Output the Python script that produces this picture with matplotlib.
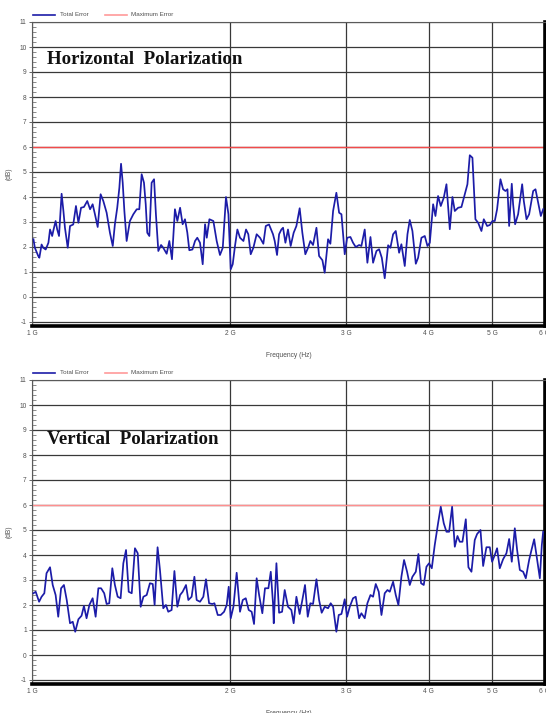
import matplotlib
matplotlib.use('Agg')
import matplotlib.pyplot as plt
from matplotlib.ticker import FixedLocator, MultipleLocator, NullLocator

# ---------------- data (frequency in GHz, error in dB) ----------------
h_freq = [1.004, 1.009, 1.021, 1.025, 1.033, 1.039, 1.048, 1.058, 1.064, 1.072,
          1.076, 1.085, 1.091, 1.098, 1.108, 1.115, 1.121, 1.132, 1.141, 1.154,
          1.165, 1.175, 1.186, 1.198, 1.212, 1.224, 1.235, 1.245, 1.257, 1.270,
          1.282, 1.297, 1.312, 1.325, 1.335, 1.346, 1.356, 1.364, 1.372, 1.380,
          1.391, 1.407, 1.424, 1.441, 1.454, 1.466, 1.478, 1.487, 1.495, 1.506,
          1.518, 1.531, 1.541, 1.554, 1.569, 1.581, 1.600, 1.615, 1.630, 1.647,
          1.661, 1.677, 1.692, 1.706, 1.720, 1.732, 1.751, 1.767, 1.781, 1.798,
          1.815, 1.830, 1.841, 1.858, 1.884, 1.906, 1.928, 1.947, 1.969, 1.986,
          2.002, 2.016, 2.032, 2.049, 2.068, 2.093, 2.112, 2.129, 2.147, 2.167,
          2.192, 2.218, 2.244, 2.263, 2.289, 2.321, 2.335, 2.354, 2.371, 2.390,
          2.404, 2.424, 2.446, 2.469, 2.495, 2.519, 2.548, 2.572, 2.599, 2.624,
          2.645, 2.670, 2.702, 2.727, 2.759, 2.781, 2.814, 2.837, 2.864, 2.897,
          2.925, 2.949, 2.983, 3.008, 3.043, 3.071, 3.100, 3.137, 3.162, 3.199,
          3.229, 3.264, 3.294, 3.333, 3.364, 3.396, 3.431, 3.472, 3.500, 3.533,
          3.566, 3.608, 3.637, 3.680, 3.715, 3.745, 3.780, 3.825, 3.856, 3.901,
          3.947, 3.984, 4.017, 4.064, 4.097, 4.135, 4.174, 4.218, 4.258, 4.308,
          4.348, 4.384, 4.435, 4.487, 4.540, 4.582, 4.620, 4.663, 4.712, 4.757,
          4.812, 4.852, 4.909, 4.955, 5.001, 5.042, 5.083, 5.143, 5.191, 5.234,
          5.271, 5.302, 5.351, 5.376, 5.414, 5.471, 5.549, 5.581, 5.634, 5.686,
          5.767, 5.814, 5.868, 5.923, 5.972]
h_err = [2.31, 1.97, 1.64, 1.57, 2.10, 1.97, 1.90, 2.17, 2.70, 2.44,
         2.64, 3.04, 2.70, 2.44, 4.13, 3.44, 2.77, 1.97, 2.84, 2.90,
         3.64, 2.97, 3.57, 3.60, 3.84, 3.51, 3.71, 3.31, 2.80, 4.11,
         3.84, 3.37, 2.57, 2.04, 2.91, 3.57, 4.37, 5.33, 4.57, 3.44,
         2.24, 3.04, 3.31, 3.51, 3.51, 4.91, 4.57, 3.71, 2.57, 2.44,
         4.57, 4.71, 3.31, 1.84, 2.08, 1.97, 1.73, 2.24, 1.51, 3.51,
         3.04, 3.57, 2.91, 3.11, 2.57, 1.87, 1.90, 2.24, 2.37, 2.17,
         1.31, 2.91, 2.37, 3.11, 3.04, 2.24, 1.68, 1.97, 4.00, 3.31,
         1.11, 1.31, 2.04, 2.70, 2.37, 2.24, 2.70, 2.51, 1.71, 1.97,
         2.51, 2.37, 2.13, 2.84, 2.90, 2.51, 2.24, 1.68, 2.51, 2.70,
         2.77, 2.17, 2.70, 2.04, 2.57, 2.84, 3.55, 2.57, 1.71, 1.97,
         2.24, 2.08, 2.77, 1.64, 1.47, 0.97, 2.31, 2.13, 3.44, 4.17,
         3.37, 3.31, 1.71, 2.37, 2.40, 2.17, 2.00, 2.08, 2.04, 2.70,
         1.37, 2.40, 1.37, 1.84, 1.91, 1.57, 0.75, 2.07, 1.97, 2.51,
         2.64, 1.77, 2.11, 1.24, 2.51, 3.08, 2.64, 1.33, 1.57, 2.37,
         2.44, 2.04, 2.17, 3.71, 3.24, 4.04, 3.64, 3.97, 4.51, 2.71,
         4.00, 3.44, 3.57, 3.60, 4.11, 4.51, 5.67, 5.57, 3.11, 2.97,
         2.64, 3.11, 2.84, 2.88, 3.04, 3.04, 3.51, 4.71, 4.31, 4.24,
         4.31, 2.84, 4.53, 3.71, 2.91, 3.31, 4.51, 3.84, 3.11, 3.31,
         4.24, 4.31, 3.77, 3.24, 3.51]

v_freq = [1.004, 1.012, 1.024, 1.033, 1.043, 1.051, 1.064, 1.074, 1.085, 1.095,
          1.106, 1.117, 1.128, 1.141, 1.152, 1.162, 1.175, 1.188, 1.198, 1.209,
          1.221, 1.235, 1.248, 1.260, 1.272, 1.286, 1.297, 1.309, 1.323, 1.335,
          1.348, 1.362, 1.375, 1.388, 1.401, 1.416, 1.432, 1.446, 1.461, 1.475,
          1.492, 1.509, 1.524, 1.534, 1.550, 1.563, 1.581, 1.596, 1.609, 1.628,
          1.644, 1.661, 1.677, 1.692, 1.712, 1.726, 1.746, 1.763, 1.777, 1.798,
          1.819, 1.836, 1.856, 1.877, 1.891, 1.913, 1.933, 1.956, 1.974, 1.988,
          2.002, 2.021, 2.044, 2.068, 2.088, 2.110, 2.132, 2.154, 2.172, 2.192,
          2.211, 2.236, 2.257, 2.284, 2.303, 2.321, 2.327, 2.349, 2.371, 2.396,
          2.418, 2.446, 2.475, 2.495, 2.519, 2.548, 2.572, 2.596, 2.621, 2.645,
          2.670, 2.702, 2.727, 2.752, 2.781, 2.814, 2.840, 2.864, 2.897, 2.921,
          2.949, 2.983, 3.008, 3.036, 3.071, 3.100, 3.137, 3.162, 3.199, 3.229,
          3.264, 3.294, 3.325, 3.360, 3.392, 3.431, 3.464, 3.492, 3.533, 3.566,
          3.599, 3.637, 3.671, 3.710, 3.745, 3.780, 3.825, 3.860, 3.896, 3.933,
          3.970, 4.007, 4.045, 4.087, 4.135, 4.174, 4.218, 4.258, 4.298, 4.343,
          4.384, 4.425, 4.461, 4.503, 4.556, 4.598, 4.647, 4.701, 4.740, 4.796,
          4.841, 4.897, 4.955, 4.995, 5.042, 5.083, 5.131, 5.191, 5.252, 5.302,
          5.351, 5.408, 5.452, 5.504, 5.568, 5.620, 5.686, 5.733, 5.787, 5.848,
          5.903, 5.944, 5.972]
v_err = [2.47, 2.53, 2.13, 2.33, 2.47, 3.27, 3.51, 2.80, 2.40, 1.53,
         2.67, 2.80, 2.20, 1.27, 1.33, 0.93, 1.43, 1.57, 1.96, 1.47,
         2.00, 2.27, 1.53, 2.67, 2.67, 2.47, 2.04, 2.07, 3.47, 2.80,
         2.33, 2.27, 3.67, 4.20, 2.53, 2.47, 4.27, 4.07, 1.93, 2.33,
         2.40, 2.87, 2.84, 2.00, 4.31, 3.40, 1.87, 2.00, 1.73, 1.80,
         3.36, 1.93, 2.40, 2.53, 2.80, 2.20, 2.33, 3.13, 2.20, 2.13,
         2.33, 3.03, 2.07, 2.04, 2.07, 1.60, 1.60, 1.73, 2.00, 2.73,
         1.47, 1.93, 3.29, 1.73, 2.20, 2.27, 1.80, 1.73, 1.24, 3.07,
         2.40, 1.67, 2.67, 2.67, 3.33, 2.07, 1.27, 3.67, 1.69, 1.73,
         2.60, 1.93, 1.80, 1.27, 2.33, 1.64, 2.20, 2.80, 1.53, 2.07,
         2.04, 3.03, 2.20, 1.69, 1.93, 1.87, 2.07, 1.93, 0.93, 1.60,
         1.64, 2.23, 1.53, 1.93, 2.27, 2.33, 1.47, 1.67, 1.47, 2.07,
         2.40, 2.33, 2.84, 2.53, 1.60, 2.47, 2.60, 2.53, 2.93, 2.40,
         2.00, 3.13, 3.80, 3.33, 2.80, 3.13, 3.33, 4.04, 2.87, 2.80,
         3.53, 3.67, 3.47, 4.40, 5.27, 5.93, 5.27, 4.93, 4.93, 5.93,
         4.33, 4.76, 4.53, 4.53, 5.43, 3.51, 3.33, 4.60, 4.84, 5.00,
         3.56, 4.31, 4.31, 3.73, 4.00, 4.27, 3.47, 3.83, 4.07, 4.64,
         3.73, 5.07, 4.20, 3.40, 3.33, 3.07, 3.80, 4.20, 4.63, 3.80,
         3.07, 4.40, 4.93]

max_error = 6
x_ticks = [1, 2, 3, 4, 5, 6]
x_ticklabels = ['1 G', '2 G', '3 G', '4 G', '5 G', '6 G']
y_ticks = list(range(-1, 12))
titles = ['Horizontal  Polarization', 'Vertical  Polarization']
legend_labels = ['Total Error', 'Maximum Error']

# ---------------- styling ----------------
SANS = ['Liberation Sans', 'DejaVu Sans']
SERIF = ['Liberation Serif', 'DejaVu Serif']
plt.rcParams['font.family'] = SANS
plt.rcParams['axes.unicode_minus'] = False

W, H = 546, 713
fig = plt.figure(figsize=(W / 100, H / 100), dpi=100)
fig.patch.set_facecolor('white')

ax_left = 32.3 / W
ax_width = (544.5 - 32.3) / W
panels = [
    dict(freq=h_freq, err=h_err, top=22, bottom=326, title=titles[0], ty=9.52,
         red='#f24a4a'),
    dict(freq=v_freq, err=v_err, top=380, bottom=684, title=titles[1], ty=8.6,
         red='#ff8f8f'),
]

line_blue = '#1c1ca8'
grid_col = '#383838'
label_col = '#505050'

for p in panels:
    bottom = 1 - p['bottom'] / H
    height = (p['bottom'] - p['top']) / H
    ax = fig.add_axes([ax_left, bottom, ax_width, height])
    ax.set_facecolor('white')
    ax.set_xscale('log')
    ax.set_xlim(1, 6)
    ax.set_ylim(-1.16, 11)

    ax.xaxis.set_major_locator(FixedLocator(x_ticks))
    ax.xaxis.set_minor_locator(NullLocator())
    ax.set_xticklabels(x_ticklabels)
    ax.yaxis.set_major_locator(FixedLocator(y_ticks))
    ax.yaxis.set_minor_locator(MultipleLocator(0.2))

    ax.grid(True, which='major', axis='both', color=grid_col, lw=0.9, zorder=1)
    ax.axhline(max_error, color=p['red'], lw=1.0, zorder=2)
    ax.plot(p['freq'], p['err'], color=line_blue, lw=1.25, zorder=3)

    ax.tick_params(axis='x', length=0, pad=3, labelsize=4.8, labelcolor=label_col)
    ax.tick_params(axis='y', which='major', direction='out', length=2.5, width=0.7,
                   color='#666666', pad=1.5, labelsize=4.8, labelcolor=label_col)
    ax.tick_params(axis='y', which='minor', direction='in', length=3, width=0.6,
                   color='#777777')

    for side in ['left', 'top']:
        ax.spines[side].set_color('#5a5a5a')
        ax.spines[side].set_linewidth(0.8)
    for side in ['right', 'bottom']:
        ax.spines[side].set_color('black')
        ax.spines[side].set_linewidth(2.6)

    ax.set_ylabel('(dB)', fontsize=4.8, color=label_col)
    ax.yaxis.set_label_coords((13 - 32.3) / 512.2, 0.5)
    ax.set_xlabel('Frequency (Hz)', fontsize=4.8, color=label_col)
    ax.xaxis.set_label_coords(0.5, -26 / 304)

    ax.text(0.0287, p['ty'], p['title'], transform=ax.get_yaxis_transform(),
            family=SERIF, fontweight='bold', fontsize=13.6, va='center', ha='left',
            color='#111111', zorder=4)

    # legend above the plot area
    ly = 1 + 7 / 304
    ax.plot([0.0014, 0.0443], [ly, ly], transform=ax.transAxes, color=line_blue,
            lw=1.2, clip_on=False)
    ax.text(0.054, ly, legend_labels[0], transform=ax.transAxes, fontsize=4.5,
            va='center', ha='left', color=label_col)
    ax.plot([0.142, 0.185], [ly, ly], transform=ax.transAxes, color='#ff9a9a',
            lw=1.2, clip_on=False)
    ax.text(0.193, ly, legend_labels[1], transform=ax.transAxes, fontsize=4.5,
            va='center', ha='left', color=label_col)

fig.savefig('out.png', dpi=100, facecolor='white')
